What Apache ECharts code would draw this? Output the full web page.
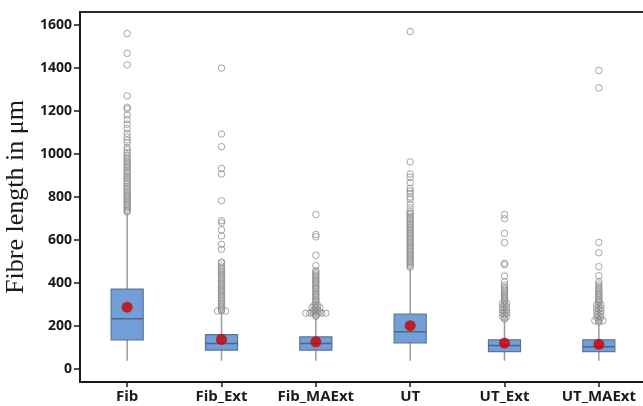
<!DOCTYPE html>
<html>
<head>
<meta charset="utf-8">
<script src="https://cdn.jsdelivr.net/npm/echarts@6/dist/echarts.min.js"></script>
<style>html,body{margin:0;padding:0;background:#fff}#c{width:643px;height:406px}</style>
</head>
<body>
<div id="c"></div>
<script>
const categories = ['Fib', 'Fib_Ext', 'Fib_MAExt', 'UT', 'UT_Ext', 'UT_MAExt'];
const whiskerLow = [39, 39, 39, 39, 39, 39];
const q1 = [136, 88, 88, 122, 81, 81];
const medians = [234, 119, 119, 174, 110, 104];
const q3 = [372, 160, 150, 256, 136, 136];
const whiskerHigh = [725, 265, 237, 466, 228, 212];
const means = [288, 138, 127, 202, 121, 115];
const yTicks = [0, 200, 400, 600, 800, 1000, 1200, 1400, 1600];
const yMin = -60;
const yMax = 1660;

const outFib = [1560, 1468, 1414, 1270, 1217, 1209, 1181, 1160, 1138, 1118, 1096, 1080, 1065, 1053, 1030, 1019, 1006, 995, 985, 975, 965, 958, 950, 942, 935, 925, 918, 910, 900, 892, 885, 876, 868, 860, 850, 842, 835, 826, 818, 810, 802, 795, 788, 780, 772, 765, 758, 750, 743, 736, 730];
const outFibExt = [1399, 1093, 1034, 933, 907, 783, 690, 680, 647, 619, 580, 557, 498, 492, 480, 470, 462, 455, 448, 440, 432, 425, 418, 410, 402, 395, 388, 380, 372, 365, 358, 350, 343, 335, 328, 320, 312, 305, 298, 290, 283, 276, 270, 270, 270];
const outFibMAExt = [718, 626, 615, 529, 481, 457, 450, 442, 435, 428, 420, 412, 405, 398, 390, 382, 375, 368, 360, 352, 345, 338, 330, 322, 315, 308, 300, 295, 295, 290, 285, 285, 285, 278, 272, 272, 265, 265, 265, 260, 260, 260, 260, 260, 260, 255, 250, 245];
const outUT = [1569, 963, 907, 892, 867, 840, 828, 817, 800, 789, 767, 750, 732, 724, 717, 708, 700, 692, 685, 676, 668, 660, 652, 645, 637, 630, 622, 615, 607, 600, 592, 585, 577, 570, 562, 555, 547, 540, 532, 525, 517, 510, 502, 495, 488, 480, 473];
const outUTExt = [719, 699, 631, 588, 492, 485, 433, 406, 390, 380, 372, 365, 358, 350, 342, 335, 328, 320, 312, 305, 305, 298, 290, 290, 282, 275, 275, 268, 260, 260, 252, 245, 245, 238, 232];
const outUTMAExt = [1388, 1307, 589, 541, 476, 434, 406, 395, 385, 375, 368, 360, 352, 345, 338, 330, 322, 315, 308, 300, 300, 292, 285, 285, 278, 270, 270, 262, 255, 255, 248, 240, 240, 232, 225, 225, 225, 218];
const outliers = [outFib, outFibExt, outFibMAExt, outUT, outUTExt, outUTMAExt];

// box data from the arrays
const boxData = categories.map((c, i) => [i, whiskerLow[i], q1[i], medians[i], q3[i], whiskerHigh[i]]);
const meanData = categories.map((c, i) => [i, means[i]]);

// outliers: tied values are stacked side by side (Minitab style)
const outData = [];
outliers.forEach((arr, i) => {
  const counts = {};
  arr.forEach(v => { counts[v] = (counts[v] || 0) + 1; });
  const seen = {};
  arr.forEach(v => {
    const n = counts[v];
    const k = seen[v] || 0;
    seen[v] = k + 1;
    outData.push({ value: [i, v], symbolOffset: [(k - (n - 1) / 2) * 4, 0] });
  });
});

const chart = echarts.init(document.getElementById('c'), null, { renderer: 'canvas' });
chart.setOption({
  animation: false,
  backgroundColor: '#ffffff',
  grid: {
    left: 80, top: 12, width: 566, height: 370,
    outerBoundsMode: 'none', containLabel: false,
    show: true, borderColor: '#2a2a2a', borderWidth: 2, backgroundColor: 'transparent'
  },
  xAxis: {
    type: 'category',
    data: categories,
    axisLine: { show: true, onZero: false, lineStyle: { color: '#1a1a1a', width: 2 } },
    axisTick: { show: true, alignWithLabel: true, length: 5, lineStyle: { color: '#1a1a1a', width: 1.5 } },
    axisLabel: { interval: 0, color: '#1a1a1a', fontFamily: 'Open Sans', fontWeight: 'bold', fontSize: 15, margin: 7 },
    splitLine: { show: false }
  },
  yAxis: {
    type: 'value',
    min: yMin,
    max: yMax,
    name: 'Fibre length in μm',
    nameLocation: 'middle',
    nameGap: 43,
    nameTextStyle: { fontFamily: 'Liberation Serif', fontSize: 26, color: '#1a1a1a' },
    axisLine: { show: true, onZero: false, lineStyle: { color: '#1a1a1a', width: 2 } },
    axisTick: { show: true, length: 6, customValues: yTicks, lineStyle: { color: '#1a1a1a', width: 1.5 } },
    axisLabel: { customValues: yTicks, formatter: function (v) { return String(v); }, color: '#1a1a1a', fontFamily: 'Open Sans', fontWeight: 'bold', fontSize: 14, margin: 8 },
    splitLine: { show: false }
  },
  series: [
    {
      type: 'custom',
      data: boxData,
      z: 3,
      renderItem: function (params, api) {
        const idx = api.value(0);
        const pMin = api.coord([idx, api.value(1)]);
        const pQ1 = api.coord([idx, api.value(2)]);
        const pMed = api.coord([idx, api.value(3)]);
        const pQ3 = api.coord([idx, api.value(4)]);
        const pMax = api.coord([idx, api.value(5)]);
        const w = api.size([1, 0])[0] * 0.34;
        const x = pMin[0];
        return {
          type: 'group',
          children: [
            { type: 'line', shape: { x1: x, y1: pMin[1], x2: x, y2: pQ1[1] }, style: { stroke: '#9a9a9a', lineWidth: 1.5 } },
            { type: 'line', shape: { x1: x, y1: pQ3[1], x2: x, y2: pMax[1] }, style: { stroke: '#9a9a9a', lineWidth: 1.5 } },
            { type: 'rect', shape: { x: x - w / 2, y: pQ3[1], width: w, height: pQ1[1] - pQ3[1] }, style: { fill: '#729fd8', stroke: '#5d7594', lineWidth: 1.2 } },
            { type: 'line', shape: { x1: x - w / 2, y1: pMed[1], x2: x + w / 2, y2: pMed[1] }, style: { stroke: '#4f6683', lineWidth: 1.5 } }
          ]
        };
      }
    },
    {
      type: 'scatter',
      data: outData,
      symbol: 'circle',
      symbolSize: 6.5,
      z: 2,
      itemStyle: { color: 'rgba(255,255,255,0)', borderColor: '#8f8f8f', borderWidth: 1 }
    },
    {
      type: 'scatter',
      data: meanData,
      symbol: 'circle',
      symbolSize: 11,
      z: 5,
      itemStyle: { color: '#cc0000' }
    }
  ]
});
</script>
</body>
</html>
